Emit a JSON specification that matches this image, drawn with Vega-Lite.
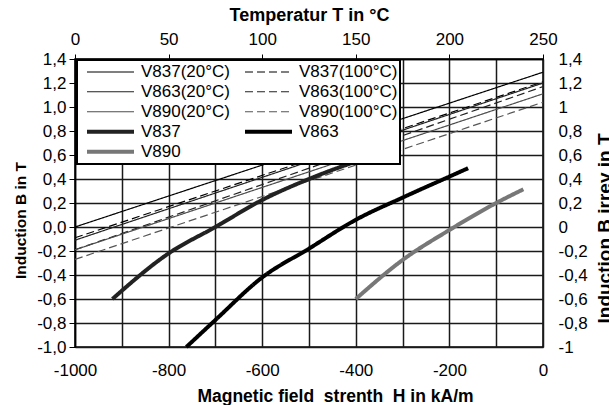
{
  "$schema": "https://vega.github.io/schema/vega-lite/v6.json",
  "width": 468,
  "height": 288,
  "autosize": {"type": "none"},
  "padding": {"left": 75, "top": 59, "right": 66, "bottom": 58},
  "background": "white",
  "config": {
    "view": {"stroke": "black", "strokeWidth": 1.5},
    "font": "Liberation Sans",
    "axis": {"labelFont": "Liberation Sans", "titleFont": "Liberation Sans", "labelColor": "black", "titleColor": "black", "labelFontSize": 17, "titleFontSize": 17.5, "titleFontWeight": "bold", "domainColor": "black", "tickColor": "black", "labelFlush": false}
  },
  "layer": [
    {
      "data": {
        "values": [
          {"s": "V837(20°C)", "H": -1000, "B": 0.0},
          {"s": "V837(20°C)", "H": 0, "B": 1.29},
          {"s": "V837(100°C)", "H": -1000, "B": -0.09},
          {"s": "V837(100°C)", "H": 0, "B": 1.21},
          {"s": "V863(20°C)", "H": -1000, "B": -0.11},
          {"s": "V863(20°C)", "H": 0, "B": 1.2},
          {"s": "V863(100°C)", "H": -1000, "B": -0.19},
          {"s": "V863(100°C)", "H": 0, "B": 1.17},
          {"s": "V890(20°C)", "H": -1000, "B": -0.19},
          {"s": "V890(20°C)", "H": 0, "B": 1.11},
          {"s": "V890(100°C)", "H": -1000, "B": -0.27},
          {"s": "V890(100°C)", "H": 0, "B": 1.04},
          {"s": "V837", "H": -920, "B": -0.6},
          {"s": "V837", "H": -800, "B": -0.22},
          {"s": "V837", "H": -700, "B": 0.0},
          {"s": "V837", "H": -600, "B": 0.225},
          {"s": "V837", "H": -500, "B": 0.4},
          {"s": "V837", "H": -400, "B": 0.545},
          {"s": "V837", "H": -340, "B": 0.62},
          {"s": "V863", "H": -762, "B": -1.0},
          {"s": "V863", "H": -700, "B": -0.775},
          {"s": "V863", "H": -600, "B": -0.42},
          {"s": "V863", "H": -500, "B": -0.18},
          {"s": "V863", "H": -400, "B": 0.06},
          {"s": "V863", "H": -300, "B": 0.245},
          {"s": "V863", "H": -200, "B": 0.42},
          {"s": "V863", "H": -160, "B": 0.49},
          {"s": "V890", "H": -400, "B": -0.6},
          {"s": "V890", "H": -300, "B": -0.275},
          {"s": "V890", "H": -200, "B": -0.025},
          {"s": "V890", "H": -100, "B": 0.2},
          {"s": "V890", "H": -42, "B": 0.314}
        ]
      },
      "mark": {"type": "line", "interpolate": "monotone"},
      "encoding": {
        "x": {
          "field": "H", "type": "quantitative",
          "scale": {"domain": [-1000, 0], "nice": false, "zero": false},
          "axis": {
            "orient": "bottom",
            "title": "Magnetic field\u00a0 strenth\u00a0 H in kA/m",
            "titleX": 260,
            "values": [-1000, -900, -800, -700, -600, -500, -400, -300, -200, -100, 0],
            "labelExpr": "datum.value % 200 == 0 ? replace(format(datum.value, 'd'), '−', '-') : ''",
            "ticks": false, "tickSize": 0, "labelPadding": 15, "titlePadding": 9,
            "domain": false,
            "grid": true, "gridColor": "#1a1a1a", "gridWidth": 1.5, "gridOpacity": 1
          }
        },
        "y": {
          "field": "B", "type": "quantitative",
          "scale": {"domain": [-1, 1.4], "nice": false, "zero": false},
          "axis": {
            "orient": "left",
            "title": "Induction B in T", "titleFontSize": 15.5, "titleY": 161,
            "values": [-1, -0.8, -0.6, -0.4, -0.2, 0, 0.2, 0.4, 0.6, 0.8, 1, 1.2, 1.4],
            "labelExpr": "replace(replace(format(datum.value, '.1f'), '.', ','), '−', '-')",
            "tickSize": 6, "labelPadding": 3, "titlePadding": 8,
            "domain": true, "domainWidth": 1.5,
            "grid": true, "gridColor": "#1a1a1a", "gridWidth": 1.5, "gridOpacity": 1
          }
        },
        "color": {
          "field": "s", "type": "nominal",
          "scale": {
            "domain": ["V837(20°C)", "V863(20°C)", "V890(20°C)", "V837", "V890", "V837(100°C)", "V863(100°C)", "V890(100°C)", "V863"],
            "range": ["#000000", "#222222", "#4d4d4d", "#222222", "#777777", "#000000", "#222222", "#555555", "#000000"]
          },
          "legend": {
            "orient": "none", "legendX": 2, "legendY": 1,
            "title": null, "columns": 2, "symbolType": "stroke",
            "symbolSize": 2209, "clipHeight": 19.5, "rowPadding": 0,
            "labelFontSize": 17, "labelFont": "Liberation Sans", "labelColor": "black",
            "symbolOffset": 6, "labelOffset": 5, "columnPadding": 6,
            "padding": 2, "fillColor": "white", "strokeColor": "black",
            "encode": {"legend": {"update": {"strokeWidth": {"value": 2}}}}
          }
        },
        "strokeDash": {
          "field": "s", "type": "nominal",
          "scale": {
            "domain": ["V837(20°C)", "V863(20°C)", "V890(20°C)", "V837", "V890", "V837(100°C)", "V863(100°C)", "V890(100°C)", "V863"],
            "range": [[1, 0], [1, 0], [1, 0], [1, 0], [1, 0], [8, 4], [8, 4], [8, 4], [1, 0]]
          }
        },
        "strokeWidth": {
          "field": "s", "type": "nominal",
          "scale": {
            "type": "ordinal",
            "domain": ["V837(20°C)", "V863(20°C)", "V890(20°C)", "V837", "V890", "V837(100°C)", "V863(100°C)", "V890(100°C)", "V863"],
            "range": [1.2, 1.2, 1.2, 4, 4, 1.2, 1.2, 1.2, 4]
          }
        }
      }
    },
    {
      "data": {"values": [{"T": 0, "Bi": -1}, {"T": 250, "Bi": 1.4}]},
      "mark": {"type": "point", "opacity": 0},
      "encoding": {
        "x": {
          "field": "T", "type": "quantitative",
          "scale": {"domain": [0, 250], "nice": false, "zero": false},
          "axis": {
            "orient": "top", "title": "Temperatur T in °C", "titleFontSize": 18,
            "values": [0, 50, 100, 150, 200, 250],
            "tickSize": 5, "labelPadding": 6, "titlePadding": 6,
            "domain": true, "domainWidth": 1.5, "grid": false
          }
        },
        "y": {
          "field": "Bi", "type": "quantitative",
          "scale": {"domain": [-1, 1.4], "nice": false, "zero": false},
          "axis": {
            "orient": "right", "title": "Induction B irrev in T", "titleFontSize": 19, "titleY": 169,
            "titleAngle": 270, "titleBaseline": "top",
            "values": [-1, -0.8, -0.6, -0.4, -0.2, 0, 0.2, 0.4, 0.6, 0.8, 1, 1.2, 1.4],
            "labelExpr": "replace(replace(format(datum.value, '~g'), '.', ','), '−', '-')",
            "ticks": false, "tickSize": 0, "labelPadding": 15, "titlePadding": 8,
            "domain": false, "grid": false
          }
        }
      }
    }
  ],
  "resolve": {"scale": {"x": "independent", "y": "independent"}}
}
